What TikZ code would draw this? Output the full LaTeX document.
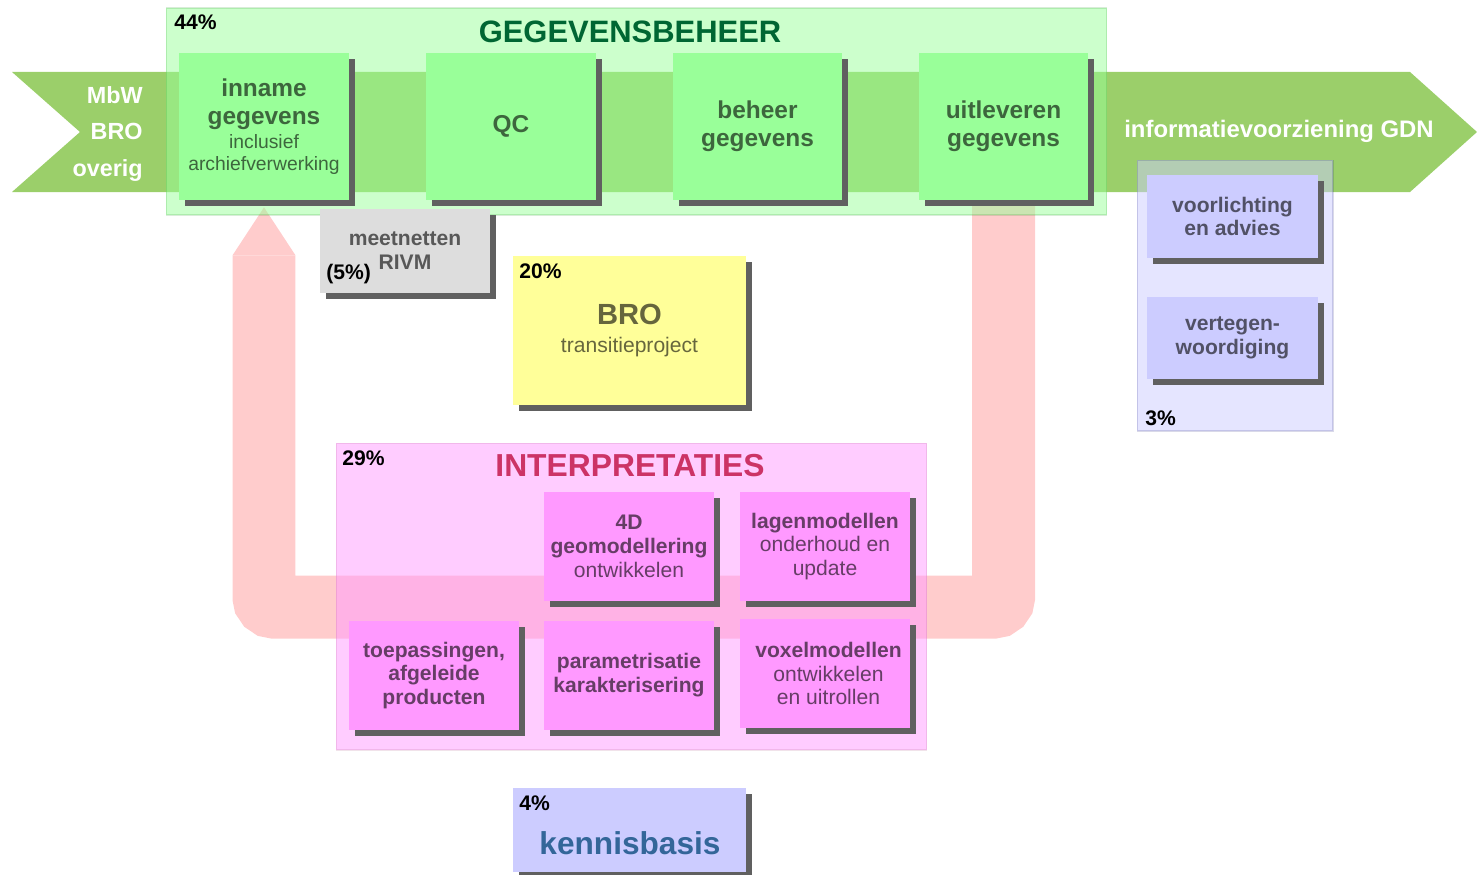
\documentclass[tikz,border=0pt]{standalone}
\usepackage{fontspec}
\setmainfont{Liberation Sans}
\usetikzlibrary{shadows,arrows.meta}
\definecolor{bandgreen}{RGB}{155,207,106}
\definecolor{boxgreen}{RGB}{153,255,153}
\definecolor{loopred}{RGB}{255,204,204}
\definecolor{boxpink}{RGB}{255,153,255}
\definecolor{boxyellow}{RGB}{255,255,153}
\definecolor{boxgray}{RGB}{221,221,221}
\definecolor{boxblue}{RGB}{204,204,255}
\definecolor{shadowgray}{RGB}{96,96,96}
\definecolor{titlegreen}{RGB}{0,102,51}
\definecolor{titlered}{RGB}{204,51,102}
\definecolor{kblue}{RGB}{51,102,153}
\newcommand{\myfs}[2]{\fontsize{#1}{#2}\selectfont}
\pgfdeclarelayer{l1}\pgfdeclarelayer{l2}\pgfdeclarelayer{l3}
\pgfsetlayers{l1,l2,l3,main}
\begin{document}
\begin{tikzpicture}[x=0.02cm,y=-0.02cm,
  box/.style={drop shadow={shadow xshift=0.12cm,shadow yshift=-0.12cm,fill=shadowgray,opacity=1},
    inner sep=0pt, align=center, text=black, text opacity=0.6, font=\bfseries\myfs{12}{13.6}},
  gbox/.style={box, fill=boxgreen, minimum width=3.4cm, minimum height=2.94cm, font=\bfseries\myfs{13.9}{15.9}},
  pbox/.style={box, fill=boxpink, minimum width=3.4cm, minimum height=2.18cm},
  bbox/.style={box, fill=boxblue, minimum width=3.42cm, minimum height=1.66cm},
  pct/.style={anchor=west, inner sep=0pt, text=black, font=\bfseries\myfs{12}{14}},
  cont/.style={inner sep=0pt, fill opacity=0.5, draw opacity=0.15, line width=0.6pt},
  title/.style={inner sep=0pt, font=\bfseries\myfs{17.6}{20}},
  bandtxt/.style={inner sep=0pt, text=white, font=\bfseries\myfs{13.3}{20.7}},
  loopline/.style={draw=loopred, line width=1.26cm, rounded corners=0.2cm,
    -{Triangle[width=1.26cm,length=0.96cm,line width=0pt,fill=loopred]}}
]
\useasboundingbox (0,0) rectangle (1477,875);

% ---- boxes (main layer) ----
\node[gbox] (inn) at (264,126.5) {inname\\gegevens\\[-2.3pt]{\mdseries\myfs{11}{12.5}inclusief}\\[-3.4pt]{\mdseries\myfs{11}{12.5}archiefverwerking}};
\node[gbox] (qc) at (511,126.5) {QC};
\node[gbox] (beh) at (757.5,126.5) {beheer\\gegevens};
\node[gbox] (uit) at (1003.5,126.5) {uitleveren\\gegevens};

\node[box, fill=boxgray, minimum width=3.4cm, minimum height=1.68cm] (meet) at (405,251) {meetnetten\\RIVM};
\node[pct] (p5) at (326,274) {(5\%)};

\node[box, fill=boxyellow, minimum width=4.66cm, minimum height=2.98cm] (bro) at (629.5,330.5)
  {{\myfs{16.6}{20}BRO}\\[2pt]{\mdseries transitieproject}};
\node[pct] (p20) at (519,271) {20\%};

\node[pbox] (d4) at (629,546.5) {4D\\geomodellering\\{\mdseries ontwikkelen}};
\node[pbox] (lag) at (825,546.5) {lagenmodellen\\{\mdseries onderhoud en}\\{\mdseries update}};
\node[pbox] (toe) at (434,675.5) {toepassingen,\\afgeleide\\producten};
\node[pbox] (par) at (629,675.5) {parametrisatie\\karakterisering};
\node[pbox] (vox) at (825,673.5) {\hspace*{4pt}voxelmodellen\\\hspace*{4pt}{\mdseries ontwikkelen}\\\hspace*{4pt}{\mdseries en uitrollen}};

\node[bbox] (voo) at (1232.5,216.5) {voorlichting\\en advies};
\node[bbox] (ver) at (1232.5,338) {vertegen-\\woordiging};
\node[pct] (p3) at (1145,418) {3\%};

\node[box, fill=boxblue, minimum width=4.66cm, minimum height=1.68cm] (ken) at (629.5,830) {};
\node[inner sep=0pt, text=kblue, font=\bfseries\myfs{18}{20}] (kent) at (630,843) {kennisbasis};
\node[pct] (p4) at (519,803) {4\%};

% ---- band ----
\begin{pgfonlayer}{l1}
\fill[bandgreen] (12,72) -- (1410,72) -- (1477,132) -- (1410,192) -- (12,192) -- (80,132) -- cycle;
\end{pgfonlayer}
\node[bandtxt, anchor=east, align=right] (src) at (143,134) {MbW\\BRO\\overig};
\node[bandtxt, font=\bfseries\myfs{13.6}{16}] (gdn) at (1279,131) {informatievoorziening GDN};

% ---- loop connector ----
\coordinate (lp) at (0,607);
\begin{pgfonlayer}{l2}
\draw[loopline] (uit.south) -- (uit.south |- lp) -- (inn.south |- lp) -- ([yshift=-0.14cm]inn.south);
\end{pgfonlayer}

% ---- containers ----
\begin{pgfonlayer}{l3}
\node[cont, fill=boxgreen, draw=green!50!black, minimum width=18.82cm, minimum height=4.14cm] (gegc) at (636.5,111.5) {};
\node[cont, fill=boxpink, draw=magenta!60!black, minimum width=11.82cm, minimum height=6.14cm] (intc) at (631.5,596.5) {};
\node[cont, fill=boxblue, draw=blue!40!black, minimum width=3.92cm, minimum height=5.42cm] (infc) at (1235,295.5) {};
\end{pgfonlayer}
\node[title, text=titlegreen] (t1) at (630,32) {GEGEVENSBEHEER};
\node[pct] (p44) at (174,22) {44\%};
\node[title, text=titlered, font=\bfseries\myfs{18.1}{20}] (t2) at (630,466) {INTERPRETATIES};
\node[pct] (p29) at (342,458) {29\%};
\end{tikzpicture}
\end{document}
